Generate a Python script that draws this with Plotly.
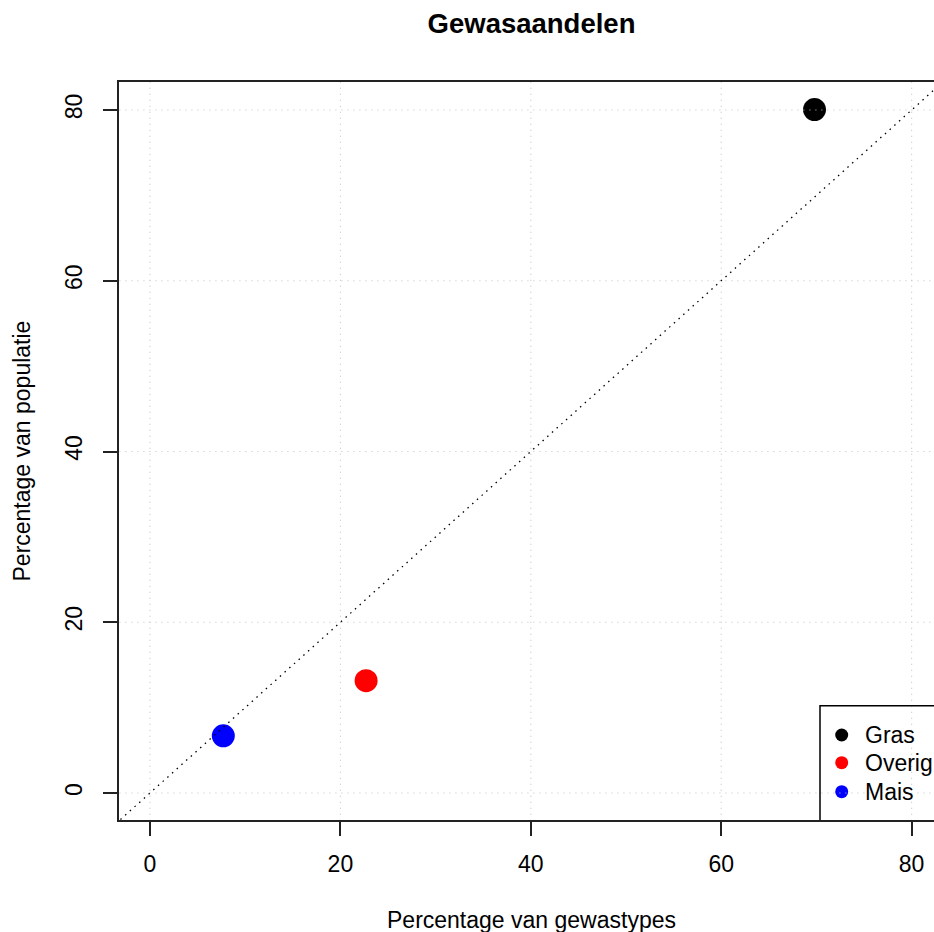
import plotly.graph_objects as go

# ---- data ----
categories = ["Gras", "Overig", "Mais"]
pct_gewastypes = [69.8, 22.7, 7.7]      # x: Percentage van gewastypes
pct_populatie = [80.05, 13.15, 6.7]     # y: Percentage van populatie
colors = ["black", "red", "blue"]
tick_vals = [0, 20, 40, 60, 80]
tick_text = ["0", "20", "40", "60", "80"]

title_text = "Gewasaandelen"
xlab = "Percentage van gewastypes"
ylab = "Percentage van populatie"

# ---- layout geometry ----
W, H = 934, 932
ML, MR, MT, MB = 119, 0, 82, 112
x_lo, x_hi = -3.256, 82.35
y_lo, y_hi = -3.1625, 83.28
FONT = "Liberation Sans, Arial, Helvetica, sans-serif"
PW, PH = W - ML - MR, H - MT - MB


def px2x(px):
    return x_lo + (px - ML) / PW * (x_hi - x_lo)


def py2y(py):
    return y_hi - (py - MT) / PH * (y_hi - y_lo)


def xpap(px):
    return (px - ML) / PW


def ypap(py):
    return (H - MB - py) / PH


fig = go.Figure()

# data points
fig.add_trace(go.Scatter(
    x=pct_gewastypes, y=pct_populatie, mode="markers",
    marker=dict(size=23, color=colors, line=dict(width=0)),
    text=categories, hoverinfo="text+x+y", showlegend=False,
))

# legend markers (custom legend box, bottom-right)
leg_rows_py = [735, 762.7, 791.7]
fig.add_trace(go.Scatter(
    x=[px2x(841.7)] * len(categories), y=[py2y(p) for p in leg_rows_py],
    mode="markers", marker=dict(size=13, color=colors, line=dict(width=0)),
    hoverinfo="skip", showlegend=False, cliponaxis=False,
))

shapes = []
# grid (drawn above the points, like R's grid())
GRID = dict(color="#c4c4c4", width=1.1, dash="1px,5px")
for v in tick_vals:
    shapes.append(dict(type="line", xref="x", yref="y", x0=v, x1=v, y0=y_lo - 5, y1=y_hi + 5,
                       line=GRID, layer="above"))
    shapes.append(dict(type="line", xref="x", yref="y", y0=v, y1=v, x0=x_lo - 5, x1=x_hi + 20,
                       line=GRID, layer="above"))
# y = x reference line
shapes.append(dict(type="line", xref="x", yref="y", x0=-10, y0=-10, x1=120, y1=120,
                   line=dict(color="black", width=1.3, dash="1.5px,4.8px"), layer="above"))
# legend box
shapes.append(dict(type="rect", xref="x", yref="y", x0=px2x(820), x1=x_hi + 30,
                   y0=y_lo - 1, y1=py2y(705.7),
                   line=dict(color="black", width=1.5), fillcolor="rgba(0,0,0,0)", layer="above"))

annotations = []
for lab, p in zip(categories, leg_rows_py):
    annotations.append(dict(text=lab, x=px2x(863), y=py2y(p), xref="x", yref="y",
                            xanchor="left", yanchor="middle", showarrow=False,
                            font=dict(size=23, color="black", family=FONT)))
# axis titles
annotations.append(dict(text=xlab, x=xpap(531.5), y=ypap(920), xref="paper", yref="paper",
                        xanchor="center", yanchor="middle", showarrow=False,
                        font=dict(size=23, color="black", family=FONT)))
annotations.append(dict(text=ylab, x=xpap(21.5), y=ypap(451), xref="paper", yref="paper",
                        xanchor="center", yanchor="middle", showarrow=False, textangle=-90,
                        font=dict(size=23, color="black", family=FONT)))

fig.update_layout(
    width=W, height=H,
    margin=dict(l=ML, r=MR, t=MT, b=MB, pad=0),
    paper_bgcolor="white", plot_bgcolor="white",
    font=dict(family=FONT, size=23, color="black"),
    title=dict(text="<b>" + title_text + "</b>", x=531.5 / W, xref="container", xanchor="center",
               y=1 - 23.4 / H, yref="container", yanchor="middle",
               font=dict(size=27.5, color="black", family=FONT)),
    xaxis=dict(range=[x_lo, x_hi], tickvals=tick_vals, ticktext=tick_text, showgrid=False,
               zeroline=False, showline=True, linecolor="#222", linewidth=2, mirror=True,
               ticks="outside", ticklen=14, tickwidth=2, tickcolor="#222",
               ticklabelstandoff=8,
               tickfont=dict(size=23, color="black", family=FONT)),
    yaxis=dict(range=[y_lo, y_hi], tickvals=tick_vals, ticktext=tick_text, showgrid=False,
               zeroline=False, showline=True, linecolor="#222", linewidth=2, mirror=False,
               ticks="outside", ticklen=14, tickwidth=2, tickcolor="#222", tickangle=-90,
               ticklabelstandoff=12,
               tickfont=dict(size=23, color="black", family=FONT)),
    shapes=shapes, annotations=annotations,
)

fig.write_html(
    "out.html",
    config={"displayModeBar": False},
    post_script="document.body.style.margin='0';document.body.style.overflow='hidden';",
)
